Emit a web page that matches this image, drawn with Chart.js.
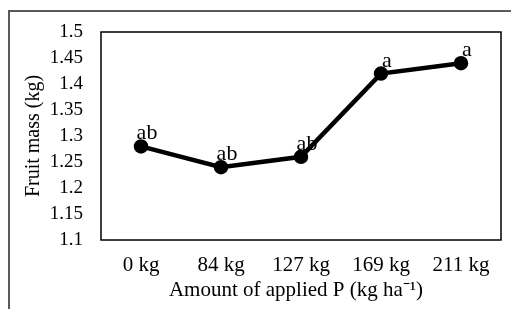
<!DOCTYPE html>
<html>
<head>
<meta charset="utf-8">
<script src="https://cdn.jsdelivr.net/npm/chart.js@4.4.0/dist/chart.umd.min.js"></script>
<style>
  html, body { margin: 0; padding: 0; background: #fff; }
  #wrap { position: relative; width: 511px; height: 309px; overflow: hidden; }
  #frame { position: absolute; left: 8px; top: 10px; width: 600px; height: 400px;
           border-left: 2px solid #5a5a5a; border-top: 2px solid #5a5a5a; }
  canvas { position: absolute; left: 0; top: 0; }
</style>
</head>
<body>
<div id="wrap">
  <div id="frame"></div>
  <canvas id="grafico" width="511" height="309"></canvas>
</div>
<script>
// dados
const categorias = ['0 kg', '84 kg', '127 kg', '169 kg', '211 kg'];
const massaFruto = [1.28, 1.24, 1.26, 1.42, 1.44];
const letras = ['ab', 'ab', 'ab', 'a', 'a'];
const ticksY = [1.1, 1.15, 1.2, 1.25, 1.3, 1.35, 1.4, 1.45, 1.5];

const fonte = '"Liberation Serif", "Times New Roman", serif';

// borda da área do gráfico + letras + título do eixo x
const extras = {
  id: 'extras',
  beforeDatasetsDraw(chart) {
    const { ctx, chartArea: a } = chart;
    ctx.save();
    ctx.strokeStyle = '#000';
    ctx.lineWidth = 1.5;
    ctx.strokeRect(a.left, a.top, a.right - a.left, a.bottom - a.top);
    ctx.restore();
  },
  afterDatasetsDraw(chart) {
    const { ctx, chartArea: a } = chart;
    const meta = chart.getDatasetMeta(0);
    ctx.save();
    ctx.fillStyle = '#000';
    ctx.textAlign = 'center';
    ctx.textBaseline = 'alphabetic';
    ctx.font = '22px ' + fonte;
    meta.data.forEach((p, i) => {
      ctx.fillText(letras[i], p.x + 6, p.y - 7);
    });
    ctx.font = '21px ' + fonte;
    ctx.fillText('Amount of applied P (kg ha\u207B\u00B9)', (a.left + a.right) / 2 - 5, 296);
    ctx.restore();
  }
};

new Chart(document.getElementById('grafico'), {
  type: 'line',
  data: {
    labels: categorias,
    datasets: [{
      data: massaFruto,
      borderColor: '#000',
      backgroundColor: '#000',
      borderWidth: 4.5,
      pointRadius: 5,
      pointHoverRadius: 5,
      tension: 0
    }]
  },
  options: {
    responsive: false,
    animation: false,
    layout: { padding: { left: 0, right: 10, top: 32, bottom: 0 } },
    plugins: { legend: { display: false }, tooltip: { enabled: false } },
    scales: {
      x: {
        offset: true,
        grid: { display: false, drawTicks: false },
        border: { display: false },
        ticks: { color: '#000', font: { family: fonte, size: 21 }, padding: 13, maxRotation: 0 },
        afterFit(s) { s.height = 69; }
      },
      y: {
        min: 1.1,
        max: 1.5,
        afterBuildTicks(s) { s.ticks = ticksY.map(v => ({ value: v })); },
        grid: { display: false, drawTicks: false },
        border: { display: false },
        ticks: { color: '#000', font: { family: fonte, size: 19 }, padding: 18,
                 callback: v => String(+v.toFixed(2)) },
        title: { display: true, text: 'Fruit mass (kg)', color: '#000',
                 font: { family: fonte, size: 20 }, padding: { top: 22, bottom: 0 } },
        afterFit(s) { s.width = 101; }
      }
    }
  },
  plugins: [extras]
});
</script>
</body>
</html>
